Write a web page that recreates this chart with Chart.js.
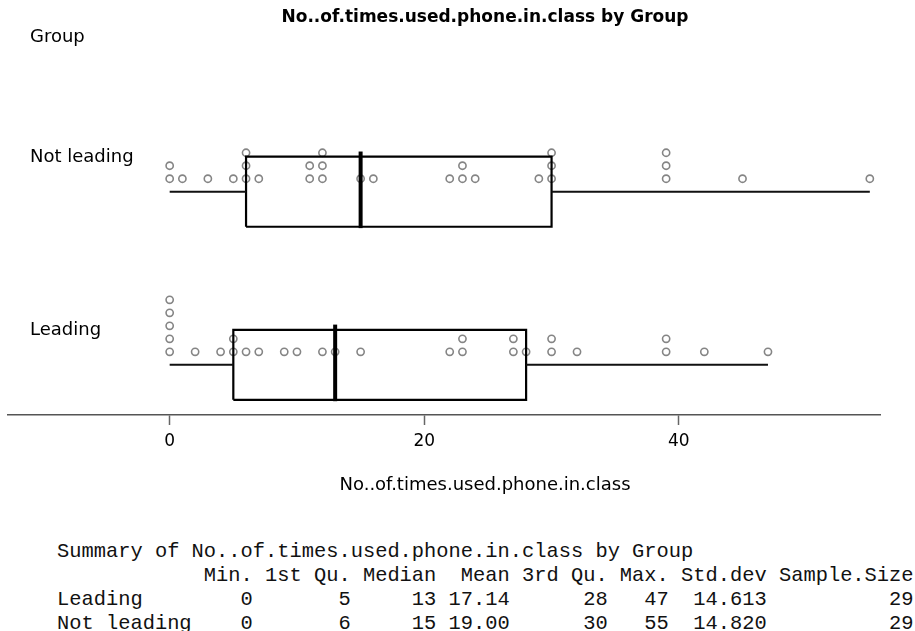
<!DOCTYPE html>
<html>
<head>
<meta charset="utf-8">
<script src="https://cdn.jsdelivr.net/npm/chart.js"></script>
<style>
    body { margin: 0; background: #fff; width: 915px; height: 631px; overflow: hidden; position: relative; }
    #myChart { position: absolute; left: 0; top: 0; }
    #summary { position: absolute; left: 57px; top: 540px; margin: 0; font: 20.4px/24px "Liberation Mono", monospace; color: #111; }
</style>
</head>
<body>
<canvas id="myChart" width="915" height="510"></canvas>
<pre id="summary"></pre>

<script>
    // data
    var groups = ['Leading', 'Not leading'];
    var leadingValues = [0, 0, 0, 0, 0, 2, 4, 5, 5, 6, 7, 9, 10, 12, 13, 15, 22, 23, 23, 27, 27, 28, 30, 30, 32, 39, 39, 42, 47];
    var notLeadingValues = [0, 0, 1, 3, 5, 6, 6, 6, 7, 11, 11, 12, 12, 12, 15, 16, 22, 23, 23, 24, 29, 30, 30, 30, 39, 39, 39, 45, 55];
    var mins = [0, 0];
    var q1s = [5, 6];
    var medians = [13, 15];
    var means = ['17.14', '19.00'];
    var q3s = [28, 30];
    var maxs = [47, 55];
    var stdDevs = ['14.613', '14.820'];
    var sampleSizes = [29, 29];
    var xTicks = [0, 20, 40];

    var chartTitle = 'No..of.times.used.phone.in.class by Group';
    var xTitle = 'No..of.times.used.phone.in.class';

    // styles
    var boxHalf = 0.2023;   // half box height in y units
    var stackStep = 0.0751; // vertical step between stacked dots
    var labelFont = '18px "DejaVu Sans"';

    var groupValues = [leadingValues, notLeadingValues];
    var datasets = [];

    groups.forEach(function (g, i) {
        var c = i + 1;
        // whiskers
        datasets.push({
            data: [{x: mins[i], y: c}, {x: q1s[i], y: c}, {x: q1s[i], y: null}, {x: q3s[i], y: c}, {x: maxs[i], y: c}],
            showLine: true, spanGaps: false, borderColor: '#111', borderWidth: 2, pointRadius: 0
        });
        // box
        datasets.push({
            data: [{x: q1s[i], y: c - boxHalf}, {x: q3s[i], y: c - boxHalf}, {x: q3s[i], y: c + boxHalf},
                   {x: q1s[i], y: c + boxHalf}, {x: q1s[i], y: c - boxHalf}],
            showLine: true, borderColor: '#000', borderWidth: 2.2, pointRadius: 0
        });
        // median
        datasets.push({
            data: [{x: medians[i], y: c - boxHalf - 0.008}, {x: medians[i], y: c + boxHalf + 0.03}],
            showLine: true, borderColor: '#000', borderWidth: 4, pointRadius: 0
        });
    });

    // stacked dots
    groups.forEach(function (g, i) {
        var c = i + 1;
        var seen = {};
        var pts = groupValues[i].map(function (v) {
            seen[v] = (seen[v] || 0) + 1;
            return {x: v, y: c + seen[v] * stackStep};
        });
        datasets.push({
            data: pts, showLine: false, pointRadius: 3.6, borderWidth: 1.6,
            pointBorderColor: '#858585', pointBackgroundColor: 'rgba(0,0,0,0)'
        });
    });

    // extra text
    var textPlugin = {
        id: 'texts',
        afterDraw: function (chart) {
            var ctx = chart.ctx;
            var y = chart.scales.y;
            ctx.save();
            ctx.fillStyle = '#000';
            ctx.textBaseline = 'middle';
            ctx.font = 'bold 17px "DejaVu Sans"';
            ctx.textAlign = 'center';
            ctx.fillText(chartTitle, 485, 18);
            ctx.font = labelFont;
            ctx.fillText(xTitle, 485, 485);
            ctx.textAlign = 'left';
            ctx.fillText('Group', 30, 37);
            groups.forEach(function (g, i) {
                ctx.fillText(g, 30, y.getPixelForValue(i + 1 + boxHalf) + 1);
            });
            ctx.restore();
        }
    };

    var ctx = document.getElementById('myChart').getContext('2d');
    var myChart = new Chart(ctx, {
        type: 'scatter',
        data: { datasets: datasets },
        plugins: [textPlugin],
        options: {
            responsive: false,
            animation: false,
            layout: { padding: { left: 8, right: 35, top: 55, bottom: 55 } },
            plugins: { legend: { display: false }, tooltip: { enabled: false } },
            scales: {
                x: {
                    type: 'linear', min: -12.7, max: 55.8,
                    afterBuildTicks: function (scale) {
                        scale.ticks = xTicks.map(function (v) { return {value: v}; });
                    },
                    afterFit: function (scale) { scale.height = 40; },
                    border: { display: true, color: '#555', width: 1.5 },
                    grid: { drawOnChartArea: false, drawTicks: true, tickLength: 10, tickColor: '#666', tickWidth: 1.5 },
                    ticks: { color: '#000', font: { family: 'DejaVu Sans', size: 17 }, padding: 6, maxRotation: 0 }
                },
                y: { type: 'linear', min: 0.71, max: 2.79, display: false }
            }
        }
    });

    // summary table
    var header = ' '.repeat(11) + ' Min. 1st Qu. Median  Mean 3rd Qu. Max. Std.dev Sample.Size';
    var lines = ['Summary of ' + xTitle + ' by Group', header];
    groups.forEach(function (g, i) {
        lines.push(g.padEnd(11) + ' ' + String(mins[i]).padStart(4) + ' ' + String(q1s[i]).padStart(7) + ' ' +
            String(medians[i]).padStart(6) + ' ' + means[i].padStart(5) + ' ' + String(q3s[i]).padStart(7) + ' ' +
            String(maxs[i]).padStart(4) + ' ' + stdDevs[i].padStart(7) + ' ' + String(sampleSizes[i]).padStart(11));
    });
    document.getElementById('summary').textContent = lines.join('\n');
</script>
</body>
</html>
